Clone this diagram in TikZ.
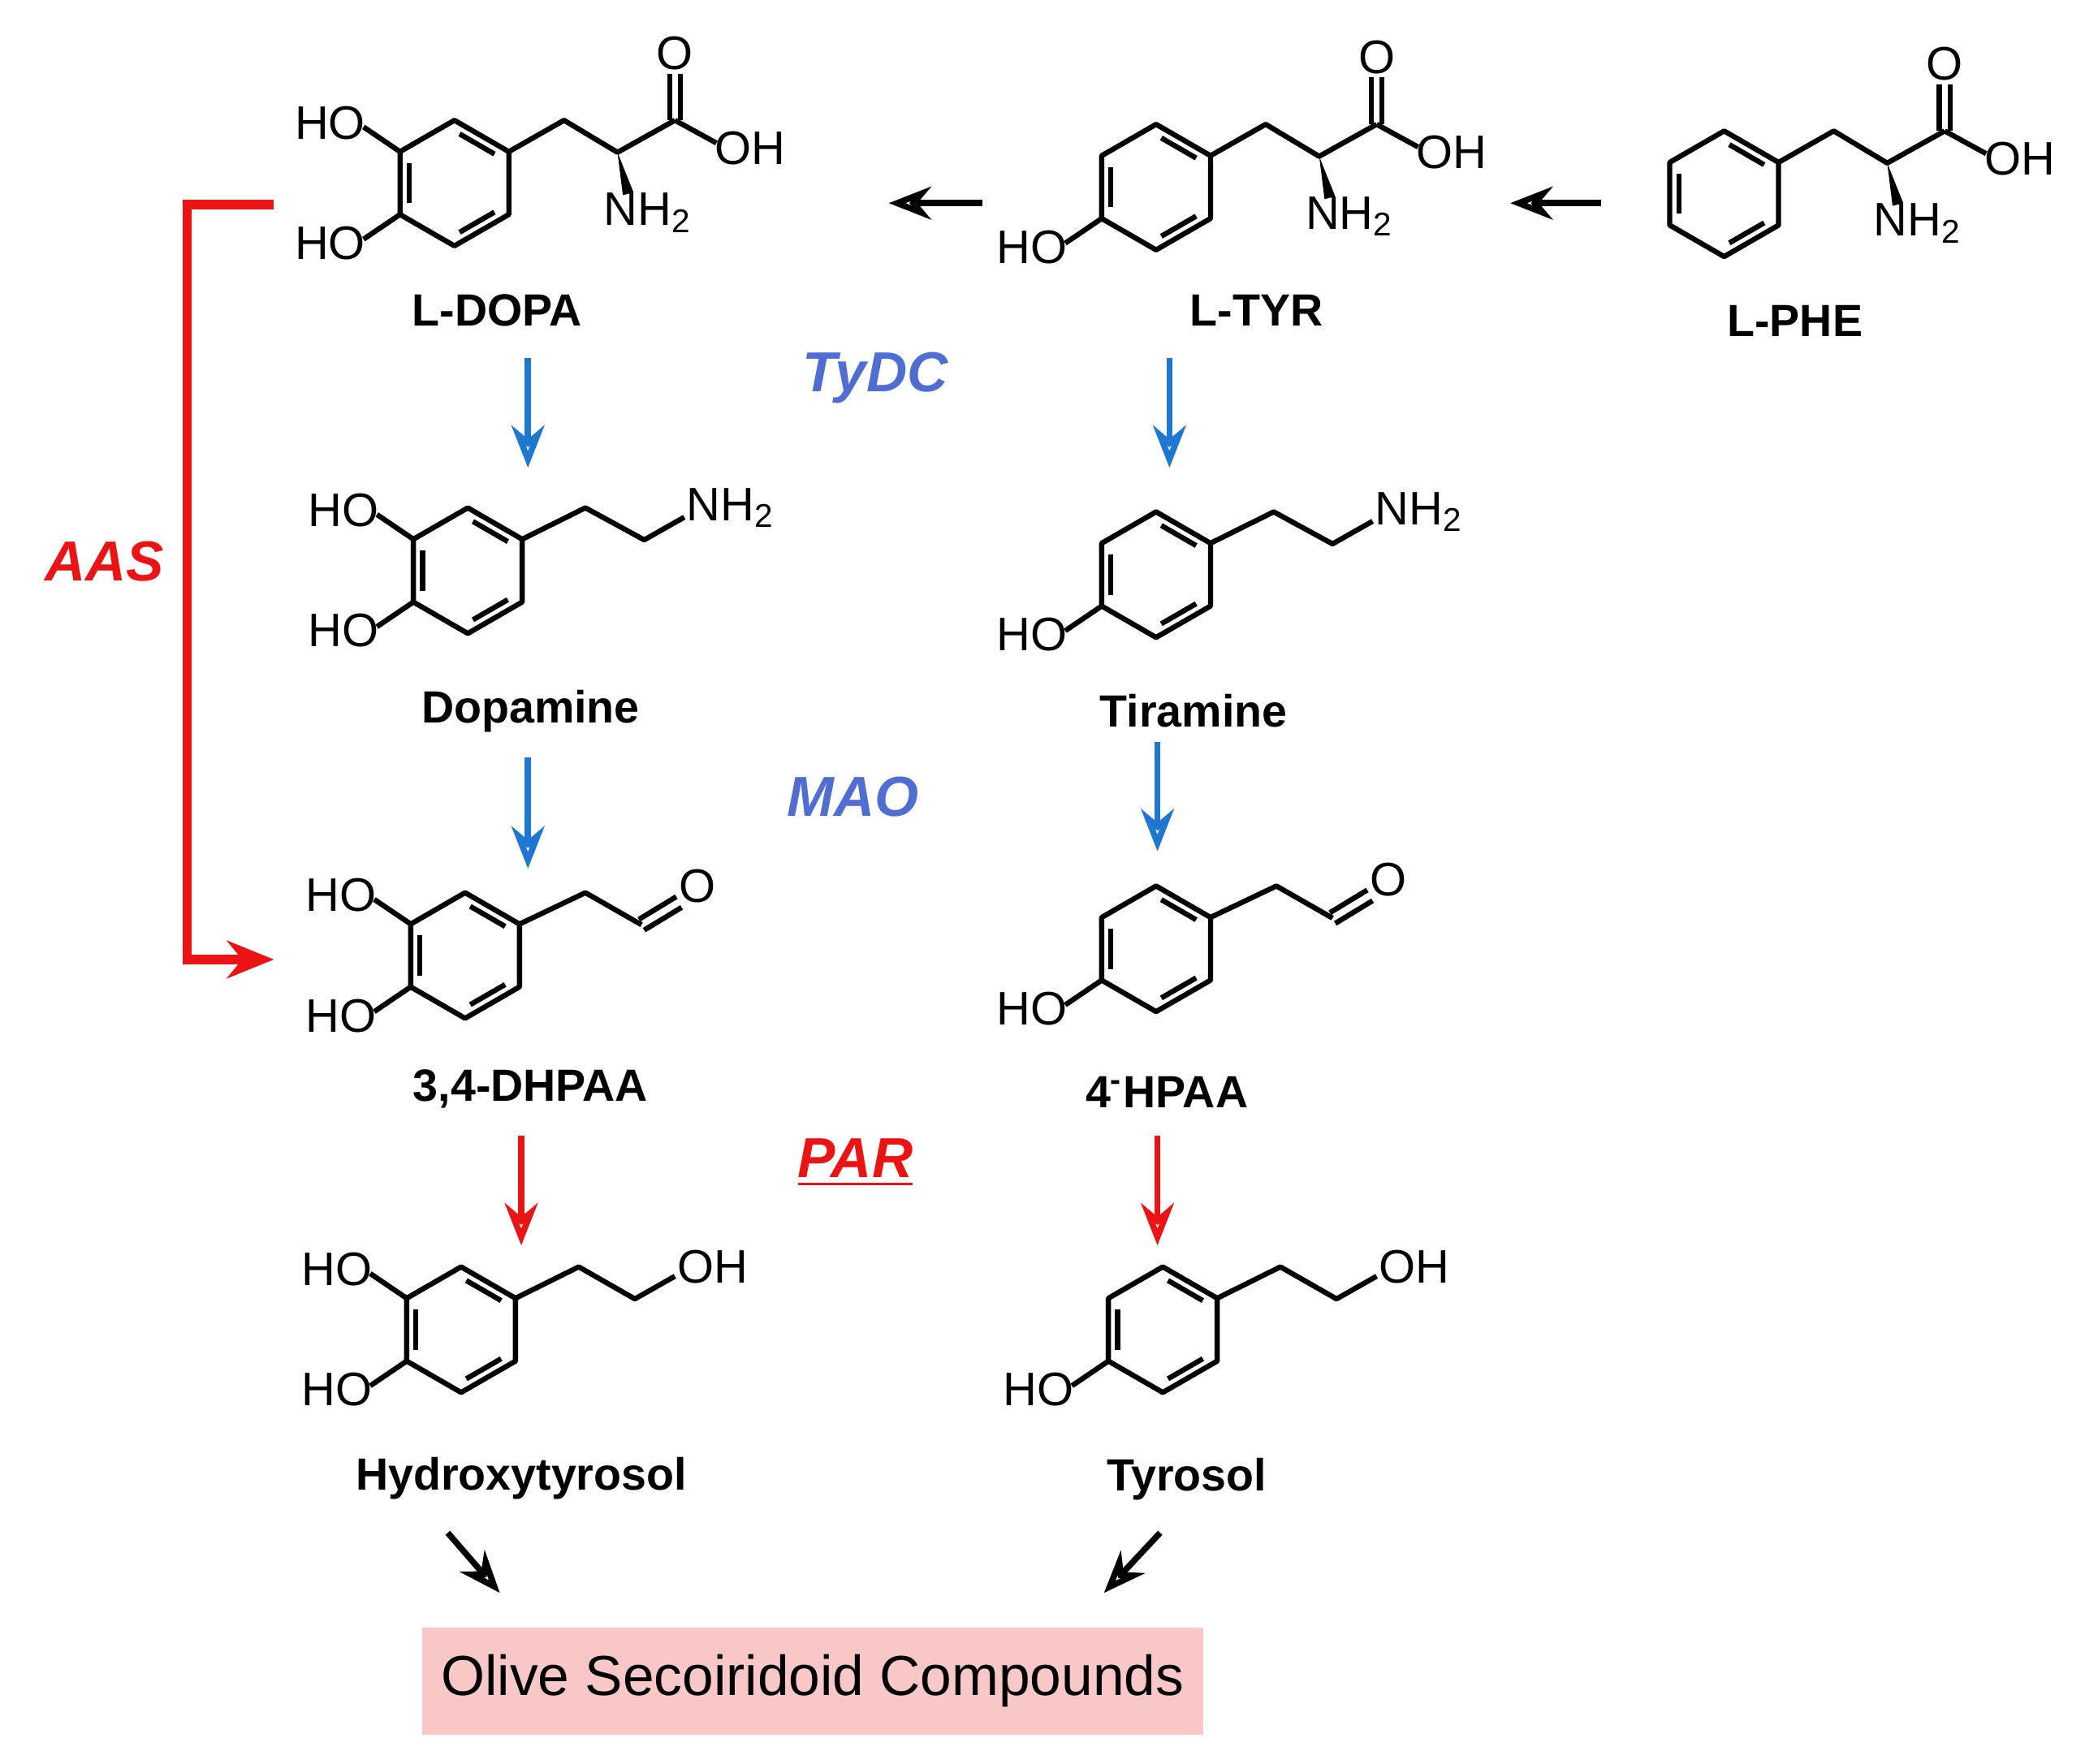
\documentclass[tikz,border=0pt]{standalone}
\usepackage{fontspec}
\setmainfont{Liberation Sans}
\usetikzlibrary{arrows.meta}

\definecolor{tblue}{RGB}{30,120,210}
\definecolor{lblue}{RGB}{80,110,210}
\definecolor{tred}{RGB}{235,20,20}
\definecolor{boxpink}{RGB}{248,200,200}

\tikzset{
  atom/.style={inner sep=0pt, font=\fontsize{10}{12}\selectfont},
  molname/.style={inner sep=0pt, font=\fontsize{9.6}{12}\selectfont\bfseries},
  enzyme/.style={inner sep=0pt, font=\fontsize{12}{14}\selectfont\bfseries\itshape},
  bond/.style={line width=1.1pt, line join=round},
  rxn/.style={line width=1.3pt, -{Stealth[length=9pt,width=7pt,open]}},
}

% benzene ring, pointy top, radius 47
\newcommand{\phring}{%
  \draw[bond] (-30:47) -- (-90:47) -- (-150:47) -- (150:47) -- (90:47) -- (30:47) -- cycle;
  \draw[bond] (-36:37) -- (-84:37);
  \draw[bond] (156:37) -- (-156:37);
  \draw[bond] (36:37) -- (84:37);
}
\newcommand{\hoLow}[1]{%
  \draw[bond] (150:47) -- (-68,42);
  \node[atom,anchor=east] (#1-hoa) at (-66,45) {HO};
}
\newcommand{\hoUp}[1]{%
  \draw[bond] (-150:47) -- (-68,-42);
  \node[atom,anchor=east] (#1-hob) at (-66,-45) {HO};
}
\newcommand{\aminoacid}[1]{%
  \draw[bond] (-30:47) -- (82,-47) -- (122,-23) -- (165,-47);
  \draw[bond] (161,-47) -- (161,-82);
  \draw[bond] (169,-47) -- (169,-82);
  \node[atom] (#1-o) at (165,-97) {O};
  \draw[bond] (165,-47) -- (196,-30);
  \node[atom,anchor=west] (#1-oh) at (194,-26) {OH};
  \fill (122,-23) -- (126,9) -- (134,7) -- cycle;
  \node[atom] (#1-n) at (145,22) {NH\textsubscript{2}};
}
\newcommand{\amine}[1]{%
  \draw[bond] (-30:47) -- (88,-47) -- (132,-23) -- (162,-40);
  \node[atom,anchor=west] (#1-n) at (163,-47) {NH\textsubscript{2}};
}
\newcommand{\aldehyde}[1]{%
  \draw[bond] (-30:47) -- (90,-47) -- (132,-23);
  \draw[bond] (130,-27) -- (158,-44);
  \draw[bond] (134,-19) -- (162,-36);
  \node[atom] (#1-o) at (174,-52) {O};
}
\newcommand{\alcohol}[1]{%
  \draw[bond] (-30:47) -- (88,-47) -- (130,-23) -- (160,-40);
  \node[atom,anchor=west] (#1-oh) at (161,-47) {OH};
}

\begin{document}
\begin{tikzpicture}[x=0.01cm,y=-0.01cm]
  \useasboundingbox (0,0) rectangle (1560,1320);

  % first row
  \begin{scope}[shift={(340,137)}]
    \phring \hoUp{dopa} \hoLow{dopa} \aminoacid{dopa}
  \end{scope}
  \begin{scope}[shift={(865,140)}]
    \phring \hoLow{tyr} \aminoacid{tyr}
  \end{scope}
  \begin{scope}[shift={(1290,145)}]
    \phring \aminoacid{phe}
  \end{scope}
  \node[molname] (ldopa) at (372,232) {L-DOPA};
  \node[molname] (ltyr) at (940,232) {L-TYR};
  \node[molname] (lphe) at (1343,240) {L-PHE};

  % second row
  \begin{scope}[shift={(350,427)}]
    \phring \hoUp{dop} \hoLow{dop} \amine{dop}
  \end{scope}
  \begin{scope}[shift={(865,430)}]
    \phring \hoLow{tir} \amine{tir}
  \end{scope}
  \node[molname] (dopamine) at (397,532) {Dopamine};
  \node[molname] (tiramine) at (893,532) {Tiramine};

  % third row
  \begin{scope}[shift={(348,715)}]
    \phring \hoUp{dhpaa} \hoLow{dhpaa} \aldehyde{dhpaa}
  \end{scope}
  \begin{scope}[shift={(865,710)}]
    \phring \hoLow{hpaa} \aldehyde{hpaa}
  \end{scope}
  \node[molname] (dhpaa) at (397,815) {3,4-DHPAA};
  \node[molname] (hpaa) at (873,817) {4\textsuperscript{-}HPAA};

  % fourth row
  \begin{scope}[shift={(345,995)}]
    \phring \hoUp{htyr} \hoLow{htyr} \alcohol{htyr}
  \end{scope}
  \begin{scope}[shift={(870,995)}]
    \phring \hoLow{tyro} \alcohol{tyro}
  \end{scope}
  \node[molname] (hydroxytyrosol) at (390,1106) {Hydroxytyrosol};
  \node[molname] (tyrosol) at (888,1107) {Tyrosol};

  % product box
  \node[fill=boxpink, minimum width=5.84cm, minimum height=0.8cm, inner sep=0pt,
        font=\fontsize{12}{14}\selectfont] (olive) at (608,1258) {Olive Secoiridoid Compounds};

  % enzymes
  \node[enzyme,text=lblue] (tydc) at (655,283) {TyDC};
  \node[enzyme,text=lblue] (mao) at (638,596) {MAO};
  \node[enzyme,text=tred] (par) at (640,870) {\underline{PAR}};
  \node[enzyme,text=tred] (aas) at (78,420) {AAS};

  % arrows
  \coordinate (t1) at (735,152); \coordinate (t2) at (665,152);
  \coordinate (p1) at (1198,152); \coordinate (p2) at (1130,152);
  \draw[rxn] (t1) -- (t2);
  \draw[rxn] (p1) -- (p2);
  \coordinate (a1) at (395,268); \coordinate (a2) at (395,350);
  \coordinate (b1) at (875,268); \coordinate (b2) at (875,350);
  \coordinate (c1) at (395,567); \coordinate (c2) at (395,650);
  \coordinate (d1) at (866,555); \coordinate (d2) at (866,637);
  \draw[rxn,tblue] (a1) -- (a2);
  \draw[rxn,tblue] (b1) -- (b2);
  \draw[rxn,tblue] (c1) -- (c2);
  \draw[rxn,tblue] (d1) -- (d2);
  \coordinate (e1) at (390,850); \coordinate (e2) at (390,932);
  \coordinate (f1) at (866,850); \coordinate (f2) at (866,932);
  \draw[rxn,tred] (e1) -- (e2);
  \draw[rxn,tred] (f1) -- (f2);
  \coordinate (g1) at (335,1147); \coordinate (g2) at (374,1192);
  \coordinate (h1) at (868,1147); \coordinate (h2) at (826,1192);
  \draw[rxn] (g1) -- (g2);
  \draw[rxn] (h1) -- (h2);
  \coordinate (r1) at (205,153); \coordinate (r2) at (205,718);
  \draw[line width=2pt,tred,-{Stealth[length=10pt,width=8pt,open]}] (r1) -- (140,153) |- (r2);
\end{tikzpicture}
\end{document}
